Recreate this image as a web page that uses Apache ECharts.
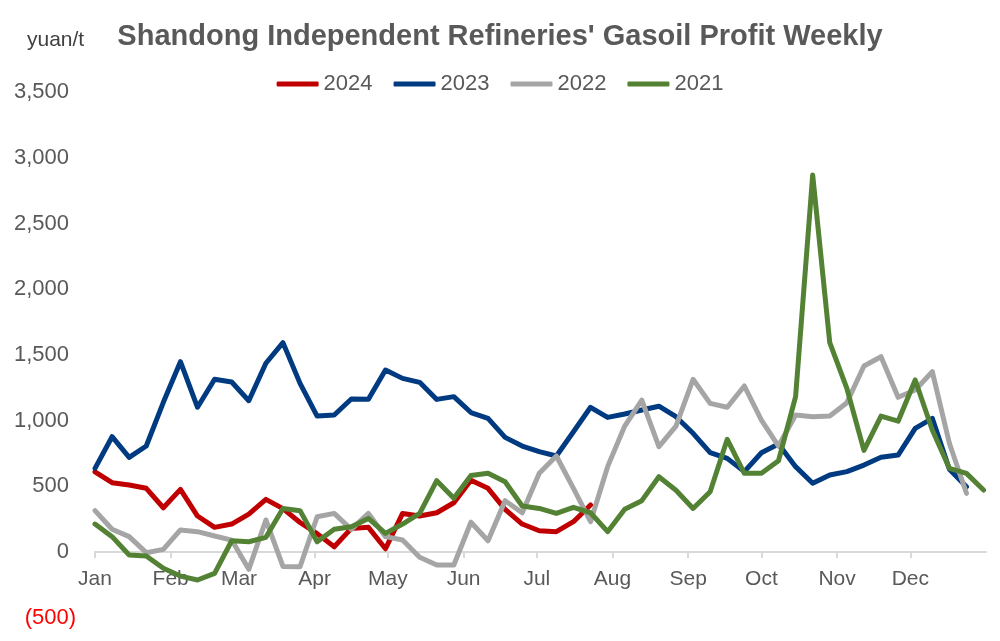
<!DOCTYPE html>
<html>
<head>
<meta charset="utf-8">
<script src="https://cdn.jsdelivr.net/npm/echarts@6/dist/echarts.min.js"></script>
<style>
html,body{margin:0;padding:0;background:#fff;}
#chart{width:1000px;height:641px;}
</style>
</head>
<body>
<div id="chart"></div>
<script>
const months = ['Jan','Feb','Mar','Apr','May','Jun','Jul','Aug','Sep','Oct','Nov','Dec'];
const monthStartDays = [0,31,59,90,120,151,181,212,243,273,304,334];
const daysPerWeek = 7;
const seriesNames = ['2024','2023','2022','2021'];
const yTicks = [-500,0,500,1000,1500,2000,2500,3000,3500];

const v2024 = [611,528,510,485,337,477,274,188,213,289,401,330,225,140,40,180,188,25,294,274,299,375,546,485,325,213,162,155,231,358];
const v2023 = [637,878,721,807,1140,1449,1102,1315,1294,1152,1437,1594,1284,1035,1043,1165,1163,1386,1322,1292,1162,1183,1062,1018,873,807,764,731,916,1102,1025,1051,1081,1110,1030,904,756,713,612,756,822,650,523,586,612,662,721,738,942,1018,630,497];
const v2022 = [315,173,117,-5,20,168,155,122,91,-132,244,-110,-112,269,294,173,294,117,91,-40,-99,-99,227,86,391,299,599,731,485,231,650,959,1157,802,959,1315,1132,1102,1264,1005,807,1043,1030,1035,1137,1416,1487,1178,1233,1373,828,447];
const v2021 = [213,117,-23,-30,-124,-183,-213,-162,86,78,112,332,315,78,173,193,256,142,213,294,543,409,583,599,535,350,332,294,340,299,155,325,391,573,470,332,459,858,599,599,695,1183,2870,1594,1246,774,1035,996,1310,929,637,599,472];

const seriesValues = [v2024, v2023, v2022, v2021];
const colors = ['#C00000','#003A80','#A5A5A5','#548235'];
const FONT = 'Liberation Sans, Arial, sans-serif';

function fmt(n){ return String(n).replace(/\B(?=(\d{3})+(?!\d))/g, ','); }

const GRID_TOP = 92.3, GRID_BOTTOM = 23.3, CHART_H = 641;
const yMin = yTicks[0], yMax = yTicks[yTicks.length-1];
const plotH = CHART_H - GRID_TOP - GRID_BOTTOM;
// move the x axis (line, ticks, labels) up to the zero line
const zeroOffset = -plotH * (0 - yMin) / (yMax - yMin);

const chart = echarts.init(document.getElementById('chart'), null, {renderer:'canvas'});
chart.setOption({
  animation:false,
  backgroundColor:'#ffffff',
  title:{
    text:"Shandong Independent Refineries' Gasoil Profit Weekly",
    left:'center', top:17,
    textStyle:{fontFamily:FONT, fontSize:29, fontWeight:'bold', color:'#595959'}
  },
  graphic:[{
    type:'text', left:27, top:30,
    style:{text:'yuan/t', fontFamily:FONT, fontSize:21, fill:'#404040'}
  }],
  legend:{
    data:seriesNames, left:'center', top:68,
    icon:'roundRect', itemWidth:42, itemHeight:5, itemGap:21,
    textStyle:{fontFamily:FONT, fontSize:22, color:'#595959'}
  },
  grid:{left:95, right:14, top:GRID_TOP, bottom:GRID_BOTTOM, containLabel:false, outerBoundsMode:'none'},
  xAxis:{
    type:'value', min:0, max:365, position:'bottom', offset:zeroOffset,
    axisLine:{show:true, onZero:false, lineStyle:{color:'#D9D9D9', width:2}},
    axisTick:{show:true, customValues:monthStartDays, length:6, lineStyle:{color:'#D9D9D9', width:2}},
    axisLabel:{
      customValues:monthStartDays,
      formatter:function(v){ const k = monthStartDays.indexOf(v); return k>=0 ? months[k] : ''; },
      fontFamily:FONT, fontSize:21, color:'#595959', margin:17
    },
    splitLine:{show:false}
  },
  yAxis:{
    type:'value', min:yMin, max:yMax, interval:500,
    axisLine:{show:false}, axisTick:{show:false}, splitLine:{show:false},
    axisLabel:{
      margin:19,
      formatter:function(v){ return v<0 ? '{neg|(' + fmt(-v) + ')}' : '{pos|' + fmt(v) + '}'; },
      rich:{
        pos:{fontFamily:FONT, fontSize:22, color:'#595959', padding:[0,7,0,0]},
        neg:{fontFamily:FONT, fontSize:22, color:'#FF0000'}
      }
    }
  },
  series: seriesNames.map(function(name, s){
    return {
      name:name, type:'line', showSymbol:false, symbol:'none', clip:false,
      lineStyle:{color:colors[s], width:5, cap:'round', join:'round'},
      itemStyle:{color:colors[s]},
      data: seriesValues[s].map(function(v,i){ return [i*daysPerWeek, v]; })
    };
  })
});
</script>
</body>
</html>
